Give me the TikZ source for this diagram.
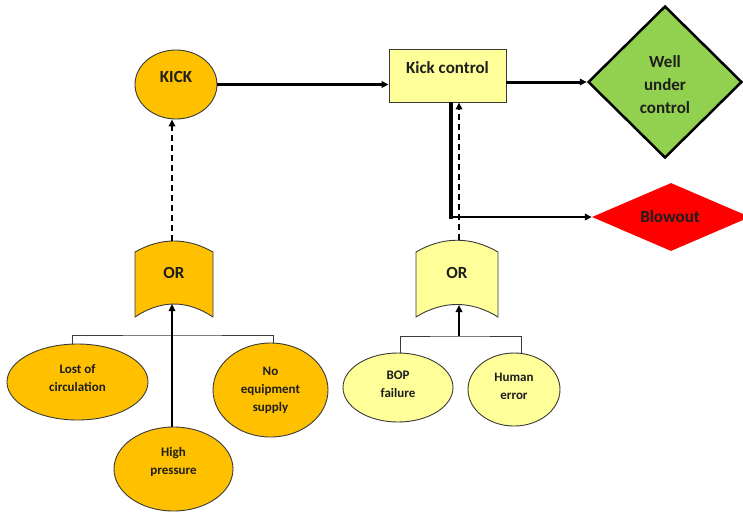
\documentclass[tikz,border=0pt]{standalone}
\usepackage{fontspec}
\setmainfont{Carlito}
\usetikzlibrary{arrows.meta,shapes.geometric,calc}

\definecolor{gold}{HTML}{FFC000}
\definecolor{paleyellow}{HTML}{FFFF99}
\definecolor{leafgreen}{HTML}{92D050}
\definecolor{alarmred}{HTML}{FF0000}
\definecolor{inkgray}{HTML}{3A3A3A}
\definecolor{txt}{HTML}{1E1E1E}

\tikzset{
  big/.style={font=\fontsize{17}{23}\selectfont\bfseries, text=txt, align=center},
  small/.style={font=\fontsize{13}{18}\selectfont\bfseries, text=txt, align=center},
  event/.style={ellipse, draw=inkgray, line width=0.9pt, inner sep=0pt},
  goldevent/.style={event, fill=gold},
  paleevent/.style={event, fill=paleyellow},
  gatefill/.style={draw=inkgray, line width=0.9pt},
  tip/.style={-{Triangle[length=7pt,width=6.5pt]}},
  mainflow/.style={tip, line width=3pt},
  dashedflow/.style={tip, line width=1.6pt, dash pattern=on 6pt off 4pt},
  solidflow/.style={tip, line width=1.8pt},
  busline/.style={line width=1pt, draw=inkgray},
}

\begin{document}
\begin{tikzpicture}[x=1pt, y=-1pt]
  \useasboundingbox (0,0) rectangle (743,512);

  % top row: initiating event, barrier, outcomes
  \node[goldevent, minimum width=82, minimum height=69] (kick) at (176,84.5) {};
  \node[big] (kickt) at (176,77) {KICK};

  \node[draw=inkgray, line width=0.9pt, fill=paleyellow, minimum width=117,
        minimum height=53, inner sep=0pt] (kc) at (447.5,75.5) {};
  \node[big] (kct) at (447.5,68) {Kick control};

  \node[diamond, draw=black, line width=2.5pt, fill=leafgreen, inner sep=0pt,
        minimum width=154, minimum height=152] (well) at (665,82) {};
  \node[big] (wellt) at (665,85) {Well\\under\\control};

  \node[diamond, fill=alarmred, inner sep=0pt, minimum width=158,
        minimum height=68] (blow) at (671,217) {};
  \node[big] (blowt) at (670,217) {Blowout};

  % OR gates
  \coordinate (orLtop) at (174,241);
  \coordinate (orLbot) at (174,304);
  \fill[gold] (135,252) .. controls (161,237.3) and (187,237.3) .. (213,252)
      -- (213,317) .. controls (187,299.7) and (161,299.7) .. (135,317) -- cycle;
  \draw[gatefill] (135,252) .. controls (161,237.3) and (187,237.3) .. (213,252)
      -- (213,317) .. controls (187,299.7) and (161,299.7) .. (135,317) -- cycle;
  \node[big] (orLt) at (174,273) {OR};

  \coordinate (orRtop) at (459,240);
  \coordinate (orRbot) at (459,305);
  \fill[paleyellow] (416,252) .. controls (443,236.3) and (471,236.3) .. (498,252)
      -- (498,317) .. controls (471,300.3) and (443,300.3) .. (416,317) -- cycle;
  \draw[gatefill] (416,252) .. controls (443,236.3) and (471,236.3) .. (498,252)
      -- (498,317) .. controls (471,300.3) and (443,300.3) .. (416,317) -- cycle;
  \node[big] (orRt) at (457,273) {OR};

  % basic events
  \node[goldevent, minimum width=141, minimum height=76] (lc) at (77.5,382) {};
  \node[small] at (77.5,378) {Lost of\\circulation};

  \node[goldevent, minimum width=115, minimum height=94] (ne) at (270.5,390) {};
  \node[small] at (270.5,390) {No\\equipment\\supply};

  \node[goldevent, minimum width=119, minimum height=84] (hp) at (173.5,469) {};
  \node[small] at (173.5,462) {High\\pressure};

  \node[paleevent, minimum width=110, minimum height=69] (bop) at (398,387.5) {};
  \node[small] at (398,384) {BOP\\failure};

  \node[paleevent, minimum width=92, minimum height=73] (he) at (514,389.5) {};
  \node[small] at (514,386) {Human\\error};

  % buses under the gates
  \coordinate (busL) at (172,335);
  \draw[busline] (lc.north -| 72,0) |- (busL) -| (ne.north -| 273,0);
  \coordinate (busR) at (459,336);
  \draw[busline] (bop.north -| 400,0) |- (busR) -| (he.north -| 521,0);

  % connectors
  \draw[tip, line width=1.4pt] (hp.north -| 172,0) -- (orLbot -| 172,0);
  \draw[solidflow] (busR) -- (orRbot);
  \draw[dashedflow] (orLtop -| 172,0) -- (kick.south -| 172,0);
  \draw[dashedflow] (orRtop) -- (kc.south -| orRtop);

  \draw[mainflow] (kick.east) -- (kc.west |- kick.east);
  \draw[mainflow] (kc.east |- well.west) -- (well.west);

  \coordinate (turn) at (451,217);
  \draw[line width=4pt] (kc.south -| turn) -- ($(turn)+(0,2)$);
  \draw[tip, line width=2.6pt] ($(turn)+(-2,0)$) -- (blow.west);
\end{tikzpicture}
\end{document}
